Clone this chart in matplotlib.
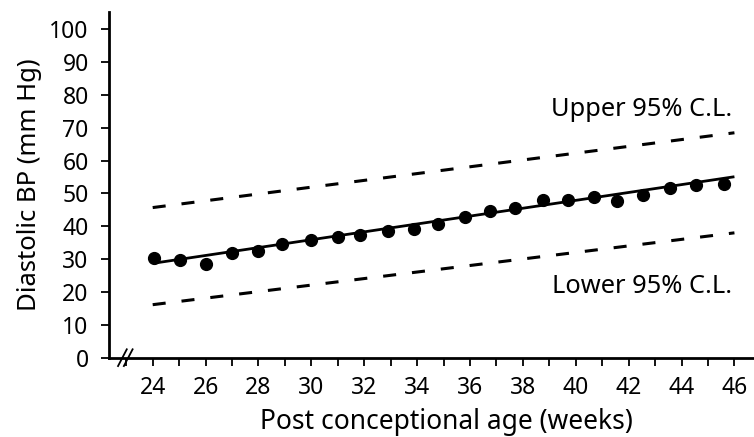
import matplotlib
matplotlib.use("Agg")
import matplotlib.pyplot as plt
from matplotlib.ticker import MultipleLocator

plt.rcParams['font.family'] = ['Noto Sans', 'DejaVu Sans']
plt.rcParams['lines.scale_dashes'] = False

# Data
age_weeks = [24.05, 25.05, 26.0, 27.0, 28.0, 28.9, 30.0, 31.0, 31.85, 32.9, 33.9,
             34.8, 35.8, 36.75, 37.7, 38.75, 39.7, 40.7, 41.55, 42.55, 43.55,
             44.55, 45.6]
diastolic_bp = [30.3, 29.8, 28.5, 32.0, 32.5, 34.6, 35.8, 36.6, 37.3, 38.6, 39.1,
                40.8, 42.9, 44.7, 45.7, 47.9, 47.9, 48.9, 47.7, 49.5, 51.6,
                52.6, 52.8]
fit_x = [24, 46]
fit_y = [28.7, 55.1]
upper_cl = [45.7, 68.5]
lower_cl = [16.1, 38.0]
x_ticks = [24, 26, 28, 30, 32, 34, 36, 38, 40, 42, 44, 46]
y_ticks = [0, 10, 20, 30, 40, 50, 60, 70, 80, 90, 100]

fig = plt.figure(figsize=(7.54, 4.37), dpi=100)
ax = fig.add_axes([0.1452, 0.1819, 0.8548, 0.7913])

ax.plot(fit_x, fit_y, color='black', lw=2.0, solid_capstyle='butt', zorder=3)
ax.plot(age_weeks, diastolic_bp, 'o', color='black', markersize=8.5, zorder=4)
for cl in (upper_cl, lower_cl):
    ax.plot(fit_x, cl, color='black', lw=2.2, dashes=(9.4, 11.5), zorder=2)

ax.text(45.9, 73.6, 'Upper 95% C.L.', ha='right', va='baseline', fontsize=18.3)
ax.text(45.9, 19.6, 'Lower 95% C.L.', ha='right', va='baseline', fontsize=18.3)

ax.set_xlim(22.366, 46.74)
ax.set_ylim(0, 105.4)
ax.set_xticks(x_ticks)
ax.set_yticks(y_ticks)
ax.xaxis.set_minor_locator(MultipleLocator(1))
ax.tick_params(axis='both', which='both', direction='out', width=1.3, length=6,
               labelsize=16.5, color='black')
ax.tick_params(axis='y', pad=9)
ax.tick_params(axis='x', pad=7)

for s in ('top', 'right'):
    ax.spines[s].set_visible(False)
for s in ('left', 'bottom'):
    ax.spines[s].set_linewidth(2.0)

ax.set_ylabel('Diastolic BP (mm Hg)', fontsize=18.5, labelpad=5)
ax.set_xlabel('Post conceptional age (weeks)', fontsize=19)
ax.xaxis.set_label_coords(0.523, -0.147)

# axis break marks
for dx in (0.0, 0.22):
    ax.plot([22.69 + dx, 23.02 + dx], [-2.6, 2.5], color='black', lw=1.3,
            clip_on=False, zorder=5)

fig.savefig('out.png', dpi=100)
